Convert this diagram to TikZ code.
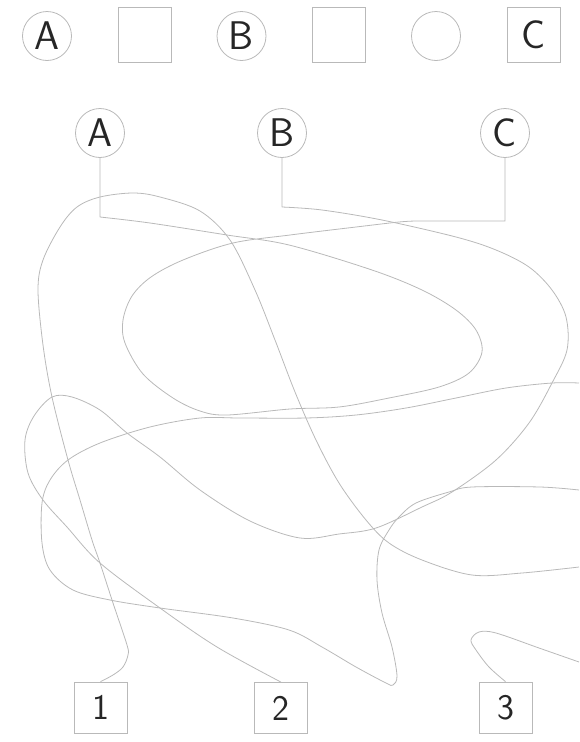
\documentclass[tikz,border=0pt]{standalone}
\usepackage{xcolor}
\definecolor{linegray}{RGB}{185,185,185}

\begin{document}
\begin{tikzpicture}[x=1pt,y=-1pt,
   port/.style={draw=linegray,circle,minimum size=49pt,inner sep=0pt,line width=.8pt,
     text=black!85,font=\sffamily\fontsize{40}{40}\selectfont},
   pin/.style={draw=linegray,minimum width=53pt,minimum height=55pt,inner sep=0pt,line width=.8pt,
     text=black!85,font=\sffamily\fontsize{40}{40}\selectfont},
   pad/.style={draw=linegray,minimum width=53pt,minimum height=51pt,inner sep=0pt,line width=.8pt,
     text=black!85,font=\sffamily\fontsize{36}{36}\selectfont},
   wire/.style={draw=linegray,line width=.8pt}]
  \useasboundingbox (0,0) rectangle (579,742);
  % palette row
  \node[port] (ta)  at (47,36)    {A};
  \node[pin]  (ts1) at (144.5,34.5) {};
  \node[port] (tb)  at (241.5,36) {B};
  \node[pin]  (ts2) at (339,34.5) {};
  \node[port] (tc)  at (436,36)   {};
  \node[pin]  (ts3) at (533.5,34.5) {C};
  % ports and pads
  \node[port] (pa) at (100,133) {A};
  \node[port] (pb) at (282,133) {B};
  \node[port] (pc) at (505,133) {C};
  \node[pad]  (p1) at (100.5,707.5) {1};
  \node[pad]  (p2) at (281,708) {2};
  \node[pad]  (p3) at (505.5,707.5) {3};
  % wire ends cut off at the right edge
  \coordinate (e1)  at (579,567);
  \coordinate (e3)  at (579,662);
  \coordinate (e2a) at (579,383);
  \coordinate (e2b) at (579,490);
  % A -- C, the inner loop
  \draw[wire] (pa.south) -- (100,217)
    plot[smooth,tension=.55] coordinates {(100,217) (150,223) (227,235) (289,245) (372,270) (422,290)
      (456,310) (476,330) (482,352) (469,373) (439,387) (389,398) (339,407) (290,409) (227,415)
      (200,411) (173,398) (143,374) (125,343) (123,320) (132,296) (151,277) (183,260) (233,243)
      (290,235) (356,227) (399,222) (416,221)}
    -- (505,221) -- (pc.south);
  % B -- 2
  \draw[wire] (pb.south) -- (282,207)
    plot[smooth,tension=.55] coordinates {(282,207) (322,210) (382,220) (456,237) (496,250) (529,267)
      (552,290) (566,317) (567,350) (552,383) (529,423) (496,460) (452,492) (422,507) (376,528)
      (339,534) (300,538) (250,521) (200,490) (160,457) (127,433) (100,410) (72,397) (52,397)
      (34,416) (25,440) (28,473) (43,500) (67,527) (100,563) (160,608) (217,647) (p2.north)};
  % 1 -- off the edge
  \draw[wire] plot[smooth,tension=.55] coordinates {(p1.north) (113,675) (123,667) (128,655) (127,645)
      (113,603) (100,563) (92,540) (80,500) (68,460) (52,397) (43,345) (38,290) (43,260) (60,227)
      (77,207) (100,197) (133,193) (160,197) (200,211) (230,240) (255,290) (275,340) (295,392)
      (316,440) (339,483) (366,520) (389,543) (422,560) (472,575) (522,573) (e1)};
  % 3 -- off the edge
  \draw[wire] plot[smooth,tension=.55] coordinates {(p3.north) (489,667) (476,650) (471,640) (479,632)
      (496,633) (539,648) (e3)};
  % edge -- edge
  \draw[wire] plot[smooth,tension=.55] coordinates {(e2a) (552,383) (506,388) (456,398) (406,408)
      (356,415) (306,418) (240,418) (200,418) (150,427) (100,443) (68,460) (50,480) (42,503)
      (42,543) (50,570) (73,590) (110,600) (160,608) (233,618) (289,630) (322,647) (356,667)
      (386,683) (393,685) (397,676) (392,647) (382,613) (377,580) (379,550) (389,530) (399,517)
      (416,503) (449,492) (472,487) (540,487) (e2b)};
\end{tikzpicture}
\end{document}
